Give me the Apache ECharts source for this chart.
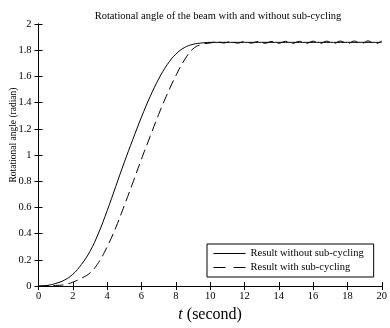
<!DOCTYPE html>
<html><head><meta charset="utf-8">
<script src="https://cdn.jsdelivr.net/npm/echarts@6/dist/echarts.min.js"></script>
<style>html,body{margin:0;padding:0;background:#fff}#c{width:390px;height:328px}</style>
</head><body><div id="c"></div>
<script>
var titleText = 'Rotational angle of the beam with and without sub-cycling';
var yLabel = 'Rotational angle (radian)';
var seriesNames = ['Result without sub-cycling', 'Result with sub-cycling'];

var tRise = [0,0.5,1,1.5,2,2.5,3,3.5,4,4.5,5,5.5,6,6.5,7,7.5,8,8.5,9,9.5,10];
var withoutRise = [0,0.005,0.02,0.045,0.09,0.165,0.265,0.405,0.575,0.76,0.945,1.12,1.29,1.445,1.58,1.69,1.77,1.82,1.845,1.855,1.86];
var withRise = [0,0.003,0.005,0.01,0.03,0.06,0.10,0.18,0.30,0.445,0.615,0.79,0.97,1.14,1.31,1.465,1.605,1.725,1.81,1.845,1.855];

var tPlateau = [10.4,10.8,11.2,11.6,12,12.4,12.8,13.2,13.6,14,14.4,14.8,15.2,15.6,16,16.4,16.8,17.2,17.6,18,18.4,18.8,19.2,19.6,20];
var withoutPlateau = [1.86,1.86,1.86,1.86,1.86,1.86,1.86,1.86,1.86,1.86,1.86,1.86,1.86,1.86,1.86,1.86,1.86,1.86,1.86,1.86,1.86,1.86,1.86,1.86,1.86];
var withPlateau = [1.865,1.855,1.866,1.854,1.866,1.854,1.867,1.853,1.867,1.853,1.868,1.852,1.868,1.852,1.869,1.851,1.869,1.851,1.87,1.85,1.87,1.85,1.871,1.849,1.87];

function pairs(ts, vs){ return ts.map(function(t,i){return [t, vs[i]];}); }
var dWithout = pairs(tRise, withoutRise).concat(pairs(tPlateau, withoutPlateau));
var dWith = pairs(tRise, withRise).concat(pairs(tPlateau, withPlateau));

var font = 'Liberation Serif';
var chart = echarts.init(document.getElementById('c'), null, {renderer:'canvas'});
chart.setOption({
  animation: false,
  backgroundColor: '#fff',
  textStyle: {fontFamily: font, color: '#000'},
  title: {text: titleText, left: 213, textAlign: 'center', top: 6,
    textStyle: {fontFamily: font, fontSize: 10.5, fontWeight: 'normal', color: '#000'}},
  grid: {left: 38.5, right: 2, top: 24, bottom: 30, show: false},
  graphic: [{type: 'text', x: 13, y: 135, rotation: Math.PI/2,
    style: {text: yLabel, fontFamily: font, fontSize: 9.5, fill: '#000', align: 'center', verticalAlign: 'middle'}}],
  legend: {
    orient: 'vertical', left: 207, top: 244,
    backgroundColor: '#fff', borderColor: '#000', borderWidth: 1,
    padding: [4, 10, 4, 6], itemGap: 3, itemWidth: 32, itemHeight: 10,
    itemStyle: {opacity: 0},
    lineStyle: {width: 1},
    textStyle: {fontFamily: font, fontSize: 10.5, color: '#000'},
    data: [
      {name: seriesNames[0]},
      {name: seriesNames[1], lineStyle: {type: [12, 8], width: 1}}
    ]
  },
  xAxis: [{
    type: 'value', min: 0, max: 20, interval: 2, position: 'bottom',
    name: '{i|t} (second)', nameLocation: 'middle', nameGap: 19,
    nameTextStyle: {fontFamily: font, fontSize: 16, color: '#000',
      rich: {i: {fontFamily: font, fontSize: 16, fontStyle: 'italic', color: '#000'}}},
    axisLine: {show: true, lineStyle: {color: '#000', width: 1}},
    axisTick: {show: true, inside: true, length: 4, lineStyle: {color: '#000'}},
    axisLabel: {fontFamily: font, fontSize: 10.5, color: '#000', margin: 5},
    splitLine: {show: false}
  }, {
    type: 'value', min: 0, max: 20, interval: 2, position: 'top',
    axisLine: {show: true, lineStyle: {color: '#000', width: 1}},
    axisTick: {show: true, inside: true, length: 4, lineStyle: {color: '#000'}},
    axisLabel: {show: false}, splitLine: {show: false}
  }],
  yAxis: [{
    type: 'value', min: 0, max: 2, interval: 0.2, position: 'left',
    axisLine: {show: true, lineStyle: {color: '#000', width: 1}},
    axisTick: {show: true, inside: true, length: 4, lineStyle: {color: '#000'}},
    axisLabel: {fontFamily: font, fontSize: 10.5, color: '#000', margin: 7},
    splitLine: {show: false}
  }, {
    type: 'value', min: 0, max: 2, interval: 0.2, position: 'right',
    axisLine: {show: true, lineStyle: {color: '#000', width: 1}},
    axisTick: {show: true, inside: true, length: 4, lineStyle: {color: '#000'}},
    axisLabel: {show: false}, splitLine: {show: false}
  }],
  series: [{
    name: seriesNames[0], type: 'line', data: dWithout, symbol: 'none', smooth: 0.4,
    lineStyle: {color: '#000', width: 1, type: 'solid'}, itemStyle: {color: '#000'}
  }, {
    name: seriesNames[1], type: 'line', data: dWith, symbol: 'none', smooth: 0.4,
    lineStyle: {color: '#000', width: 1, type: [10, 5]}, itemStyle: {color: '#000'}
  }]
});
</script></body></html>
